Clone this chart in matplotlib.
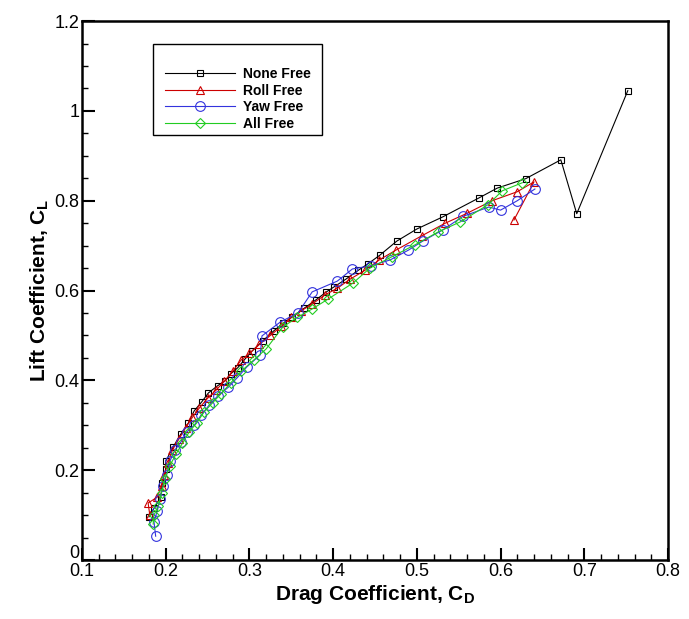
import numpy as np
import matplotlib.pyplot as plt
from matplotlib.patches import Rectangle
from matplotlib.ticker import MultipleLocator, FuncFormatter, FormatStrFormatter

plt.rcParams['font.family'] = ['Liberation Sans', 'DejaVu Sans']
plt.rcParams['mathtext.fontset'] = 'custom'
plt.rcParams['mathtext.rm'] = 'Liberation Sans:bold'
plt.rcParams['mathtext.it'] = 'Liberation Sans:bold'
plt.rcParams['mathtext.bf'] = 'Liberation Sans:bold'

# None Free
cd_none = [0.180, 0.186, 0.194, 0.196, 0.200, 0.200, 0.209, 0.218, 0.227, 0.234,
           0.243, 0.251, 0.262, 0.271, 0.278, 0.286, 0.295, 0.303, 0.316, 0.329,
           0.340, 0.351, 0.365, 0.380, 0.392, 0.401, 0.415, 0.430, 0.442, 0.456,
           0.476, 0.500, 0.531, 0.574, 0.596, 0.630, 0.672, 0.691, 0.752]
cl_none = [0.096, 0.115, 0.140, 0.171, 0.203, 0.220, 0.252, 0.280, 0.305, 0.332,
           0.352, 0.372, 0.388, 0.399, 0.415, 0.428, 0.448, 0.465, 0.488, 0.510,
           0.527, 0.541, 0.560, 0.580, 0.597, 0.608, 0.625, 0.645, 0.660, 0.679,
           0.710, 0.737, 0.764, 0.806, 0.828, 0.849, 0.891, 0.771, 1.045]

# Roll Free
cd_roll = [0.181, 0.179, 0.190, 0.195, 0.198, 0.203, 0.208, 0.216, 0.224, 0.232,
           0.240, 0.250, 0.260, 0.270, 0.280, 0.290, 0.300, 0.312, 0.325, 0.338,
           0.350, 0.362, 0.375, 0.390, 0.405, 0.420, 0.438, 0.455, 0.475, 0.506,
           0.534, 0.560, 0.590, 0.620, 0.640, 0.616]
cl_roll = [0.100, 0.127, 0.140, 0.165, 0.190, 0.215, 0.245, 0.270, 0.295, 0.318,
           0.338, 0.360, 0.378, 0.398, 0.420, 0.445, 0.460, 0.480, 0.500, 0.520,
           0.540, 0.555, 0.570, 0.590, 0.605, 0.625, 0.645, 0.668, 0.690, 0.722,
           0.750, 0.772, 0.800, 0.820, 0.842, 0.757]

# Yaw Free
cd_yaw = [0.188, 0.186, 0.190, 0.193, 0.197, 0.201, 0.205, 0.211, 0.218, 0.225,
          0.234, 0.242, 0.252, 0.262, 0.275, 0.285, 0.297, 0.313, 0.315, 0.337,
          0.358, 0.375, 0.405, 0.423, 0.445, 0.468, 0.490, 0.507, 0.531, 0.555,
          0.586, 0.600, 0.620, 0.641]
cl_yaw = [0.053, 0.085, 0.110, 0.135, 0.165, 0.190, 0.220, 0.245, 0.262, 0.285,
          0.300, 0.322, 0.345, 0.365, 0.385, 0.405, 0.430, 0.457, 0.499, 0.530,
          0.550, 0.597, 0.621, 0.648, 0.655, 0.668, 0.690, 0.710, 0.735, 0.765,
          0.786, 0.779, 0.800, 0.826]

# All Free
cd_all = [0.185, 0.186, 0.191, 0.195, 0.199, 0.205, 0.212, 0.220, 0.228, 0.237,
          0.246, 0.256, 0.266, 0.278, 0.290, 0.305, 0.320, 0.340, 0.357, 0.375,
          0.394, 0.424, 0.444, 0.470, 0.498, 0.525, 0.552, 0.585, 0.602, 0.626]
cl_all = [0.080, 0.100, 0.120, 0.150, 0.180, 0.210, 0.235, 0.260, 0.285, 0.305,
          0.330, 0.350, 0.370, 0.395, 0.420, 0.445, 0.470, 0.519, 0.540, 0.559,
          0.581, 0.617, 0.650, 0.675, 0.702, 0.730, 0.753, 0.791, 0.822, 0.840]

fig = plt.figure(figsize=(6.89, 6.19), dpi=100)
ax = fig.add_axes([0.119, 0.0953, 0.8505, 0.8707])

ax.plot(cd_none, cl_none, '-s', color='black', label='None Free', markersize=5, lw=0.8,
        mfc='none', markeredgewidth=0.8)
ax.plot(cd_roll, cl_roll, '-^', color='#cc0000', label='Roll Free', markersize=6, lw=0.8,
        mfc='none', markeredgewidth=0.8)
ax.plot(cd_yaw, cl_yaw, '-o', color='#3333dd', label='Yaw Free', markersize=7, lw=0.8,
        mfc='none', markeredgewidth=0.8)
ax.plot(cd_all, cl_all, '-D', color='#22cc22', label='All Free', markersize=5.5, lw=0.8,
        mfc='none', markeredgewidth=0.8)

ax.set_xlim(0.1, 0.8)
ax.set_ylim(0, 1.2)
ax.xaxis.set_major_locator(MultipleLocator(0.1))
ax.xaxis.set_minor_locator(MultipleLocator(0.02))
ax.yaxis.set_major_locator(MultipleLocator(0.2))
ax.yaxis.set_minor_locator(MultipleLocator(0.05))
ax.xaxis.set_major_formatter(FormatStrFormatter('%g'))
# the y "0" is written separately below, a little higher, so it clears the "0.1"
ax.yaxis.set_major_formatter(FuncFormatter(lambda v, p: '' if abs(v) < 1e-9 else '%g' % v))
ax.tick_params(which='both', direction='in', top=False, right=False, labelsize=13, width=1.5)
ax.tick_params(which='major', length=9, pad=2)
ax.tick_params(which='minor', length=4.5, width=1)
for s in ax.spines.values():
    s.set_linewidth(1.8)

ax.text(-0.005, 0.012, '0', transform=ax.transAxes, ha='right', va='center', fontsize=13)

ax.set_xlabel('Drag Coefficient, C$_{D}$', fontsize=15, fontweight='bold', labelpad=2)
ax.set_ylabel('Lift Coefficient, C$_{L}$', fontsize=15, fontweight='bold', labelpad=2)

ax.add_patch(Rectangle((0.121, 0.788), 0.289, 0.169, transform=ax.transAxes,
                       fill=False, edgecolor='black', lw=1, zorder=5))
ax.legend(loc='upper left', bbox_to_anchor=(0.13, 0.928), frameon=False,
          handlelength=5, handletextpad=0.6, labelspacing=0.2, borderpad=0,
          prop={'weight': 'bold', 'size': 10})

fig.savefig('out.png', dpi=100)
